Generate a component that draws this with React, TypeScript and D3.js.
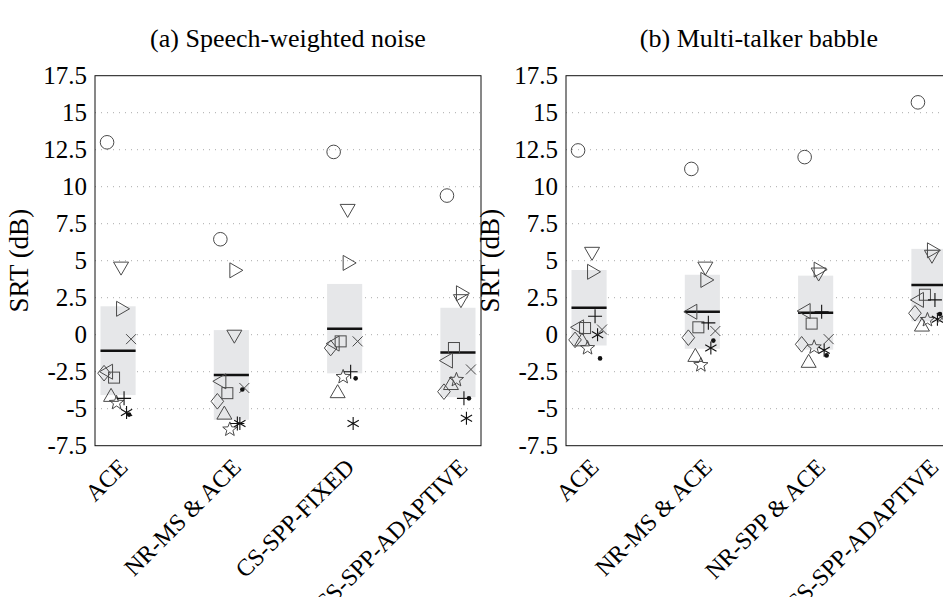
import React from 'react';
import * as d3 from 'd3';

// participants, in the order used by every value array below
const marks = ['circle', 'triDown', 'triRight', 'triLeft', 'square', 'diamond', 'triUp', 'star', 'plus', 'asterisk', 'times', 'dot'];

const yTicks = [17.5, 15, 12.5, 10, 7.5, 5, 2.5, 0, -2.5, -5, -7.5];

// (a) speech-weighted noise
const condA = ['ACE', 'NR-MS & ACE', 'CS-SPP-FIXED', 'CS-SPP-ADAPTIVE'];
const srtA_ACE = [13.0, 4.6, 1.75, -2.5, -2.9, -2.6, -4.2, -4.6, -4.3, -5.25, -0.3, -5.4];
const srtA_NRMS = [6.45, 0.0, 4.35, -3.15, -3.95, -4.5, -5.4, -6.4, -6.0, -6.0, -3.6, -3.7];
const srtA_FIXED = [12.35, 8.5, 4.85, -0.6, -0.45, -0.9, -3.95, -2.85, -2.5, -6.0, -0.45, -2.95];
const srtA_ADAPT = [9.4, 2.4, 2.8, -1.75, -0.9, -3.85, -3.4, -3.05, -4.3, -5.65, -2.35, -4.3];
const meanA = [-1.08, -2.72, 0.41, -1.2];
const ciA = [3.0, 3.03, 3.02, 3.02];

// (b) multi-talker babble
const condB = ['ACE', 'NR-MS & ACE', 'NR-SPP & ACE', 'CS-SPP-ADAPTIVE'];
const srtB_ACE = [12.45, 5.6, 4.25, 0.5, 0.45, -0.35, -0.45, -0.9, 1.25, 0.0, 0.35, -1.6];
const srtB_NRMS = [11.2, 4.6, 3.7, 1.55, 0.5, -0.2, -1.5, -2.05, 0.8, -0.9, 0.25, -0.4];
const srtB_NRSPP = [12.0, 4.2, 4.4, 1.6, 0.75, -0.65, -1.9, -0.85, 1.55, -1.05, -0.3, -1.4];
const srtB_ADAPT = [15.7, 5.4, 5.7, 2.35, 2.7, 1.45, 0.55, 1.0, 2.35, 1.05, 1.1, 1.4];
const meanB = [1.82, 1.55, 1.49, 3.35];
const ciB = [2.55, 2.5, 2.5, 2.45];

// horizontal jitter of each participant's mark around the condition (px)
const jitter: Record<string, number> = {
  circle: -11, triDown: 3, triRight: 3, triLeft: -10, square: -4, diamond: -14,
  triUp: -7, star: -1.5, plus: 6, asterisk: 8.5, times: 13, dot: 11,
};

const FONT = "'Liberation Serif', serif";
const top = 75.7, bottom = 445.7, panelW = 386;

function tri(rot: number) {
  const pts = [[0, -8.5], [7.5, 4.5], [-7.5, 4.5]].map(([px, py]) => {
    const a = (rot * Math.PI) / 180;
    return [px * Math.cos(a) - py * Math.sin(a), px * Math.sin(a) + py * Math.cos(a)];
  });
  return 'M' + pts.map(p => p.join(',')).join('L') + 'Z';
}

function star() {
  const p = d3.path();
  for (let i = 0; i < 10; i++) {
    const r = i % 2 ? 3.2 : 7.5;
    const a = -Math.PI / 2 + (i * Math.PI) / 5;
    if (i === 0) p.moveTo(r * Math.cos(a), r * Math.sin(a));
    else p.lineTo(r * Math.cos(a), r * Math.sin(a));
  }
  p.closePath();
  return p.toString();
}

function Mark({ kind, cx, cy }: { kind: string; cx: number; cy: number }) {
  const gray = '#4a4a4a';
  const t = `translate(${cx},${cy})`;
  switch (kind) {
    case 'circle':
      return <circle cx={cx} cy={cy} r={6.8} fill="none" stroke={gray} strokeWidth={1} />;
    case 'triUp':
      return <path transform={t} d={tri(0)} fill="none" stroke={gray} />;
    case 'triDown':
      return <path transform={t} d={tri(180)} fill="none" stroke={gray} />;
    case 'triRight':
      return <path transform={t} d={tri(90)} fill="none" stroke={gray} />;
    case 'triLeft':
      return <path transform={t} d={tri(-90)} fill="none" stroke={gray} />;
    case 'square':
      return <rect x={cx - 5.5} y={cy - 5.5} width={11} height={11} fill="none" stroke={gray} />;
    case 'diamond':
      return <path transform={t} d="M0,-7.8L6.3,0L0,7.8L-6.3,0Z" fill="none" stroke={gray} />;
    case 'star':
      return <path transform={t} d={star()} fill="none" stroke={gray} />;
    case 'plus':
      return <path transform={t} d="M-7,0H7M0,-7V7" stroke="#111" strokeWidth={1.1} />;
    case 'asterisk': {
      const r = 6.5, c = r * Math.cos(Math.PI / 6), s = r * Math.sin(Math.PI / 6);
      return <path transform={t} d={`M0,${-r}V${r}M${-c},${-s}L${c},${s}M${-c},${s}L${c},${-s}`} stroke="#111" strokeWidth={1.1} />;
    }
    case 'times':
      return <path transform={t} d="M-5,-5L5,5M-5,5L5,-5" stroke={gray} />;
    default:
      return <circle cx={cx} cy={cy} r={2.3} fill="#111" />;
  }
}

function Panel({ x0, title, conds, series, means, cis }: {
  x0: number; title: string; conds: string[]; series: number[][]; means: number[]; cis: number[];
}) {
  const x = d3.scalePoint<string>().domain(conds).range([x0, x0 + panelW]).padding(0.2035);
  const y = d3.scaleLinear().domain([-7.5, 17.5]).range([bottom, top]);
  const bw = x.step() * 0.31;
  return (
    <g>
      <text x={x0 + panelW / 2} y={47} textAnchor="middle" fontFamily={FONT} fontSize={26}>{title}</text>
      {yTicks.map(v => (
        <line key={'g' + v} x1={x0} x2={x0 + panelW} y1={y(v)} y2={y(v)} stroke="#aaa" strokeWidth={1} strokeDasharray="1,5"
          display={v > -7.5 && v < 17.5 ? undefined : 'none'} />
      ))}
      {yTicks.map(v => (
        <text key={'t' + v} x={x0 - 8} y={y(v) + 8} textAnchor="end" fontFamily={FONT} fontSize={25}>{String(v)}</text>
      ))}
      {conds.map((c, i) => (
        <g key={c}>
          <rect x={x(c)! - bw / 2} width={bw} y={y(means[i] + cis[i])} height={y(means[i] - cis[i]) - y(means[i] + cis[i])} fill="#e6e7e9" />
          <line x1={x(c)! - bw / 2} x2={x(c)! + bw / 2} y1={y(means[i])} y2={y(means[i])} stroke="#111" strokeWidth={2.5} />
        </g>
      ))}
      {conds.map((c, i) => series[i].map((v, j) => (
        <Mark key={c + j} kind={marks[j]} cx={x(c)! + jitter[marks[j]]} cy={y(v)} />
      )))}
      <rect x={x0} y={top} width={panelW} height={bottom - top} fill="none" stroke="#111" strokeWidth={1} />
      <text transform={`translate(${x0 - 67},${(top + bottom) / 2}) rotate(-90)`} textAnchor="middle" fontFamily={FONT} fontSize={27}>SRT (dB)</text>
      {conds.map(c => (
        <text key={c} transform={`translate(${x(c)! + 11},${bottom + 23}) rotate(-45)`} textAnchor="end" fontFamily={FONT} fontSize={24}>{c}</text>
      ))}
    </g>
  );
}

export default function App() {
  return (
    <svg width={943} height={597} fontFamily={FONT} style={{ position: 'absolute', left: 0, top: 0, background: '#fff' }}>
      <rect width={943} height={597} fill="#fff" />
      <Panel x0={95} title="(a) Speech-weighted noise" conds={condA}
        series={[srtA_ACE, srtA_NRMS, srtA_FIXED, srtA_ADAPT]} means={meanA} cis={ciA} />
      <Panel x0={566} title="(b) Multi-talker babble" conds={condB}
        series={[srtB_ACE, srtB_NRMS, srtB_NRSPP, srtB_ADAPT]} means={meanB} cis={ciB} />
    </svg>
  );
}
